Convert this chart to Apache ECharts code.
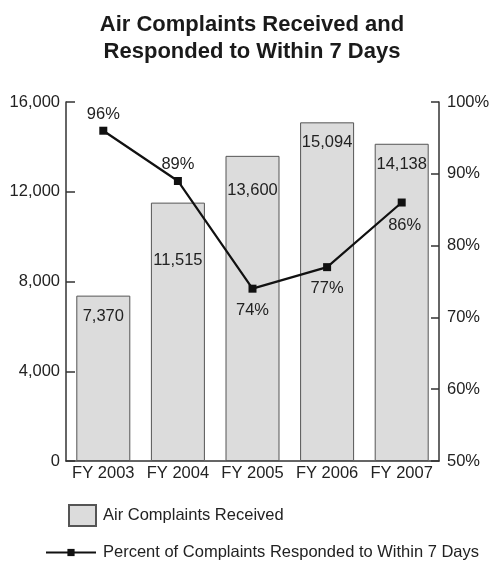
<!DOCTYPE html>
<html><head><meta charset="utf-8">
<script src="https://cdn.jsdelivr.net/npm/echarts@6/dist/echarts.min.js"></script>
<style>html,body{margin:0;padding:0;background:#fff}#c{width:489px;height:565px}</style>
</head><body><div id="c"></div>
<script>
const categories = ['FY 2003', 'FY 2004', 'FY 2005', 'FY 2006', 'FY 2007'];
const complaints = [7370, 11515, 13600, 15094, 14138];
const percentResponded = [96, 89, 74, 77, 86];
const leftTicks = [0, 4000, 8000, 12000, 16000];
const rightTicks = [50, 60, 70, 80, 90, 100];
const barLabelDist = [12, 49, 26, 12, 12];
const lineLabelPos = ['top', 'top', 'bottom', 'bottom', 'bottom'];
const lineLabelDist = [4, 4.5, 9, 9, 10];

const SANS = "'Liberation Sans', Arial, sans-serif";
const FS = 16.5;
const TXT = '#222';
const AX = '#333';

const chart = echarts.init(document.getElementById('c'));
chart.setOption({
  animation: false,
  title: {
    text: 'Air Complaints Received and\nResponded to Within 7 Days',
    left: 247, top: 6, textAlign: 'center',
    textStyle: { fontFamily: SANS, fontWeight: 'bold', fontSize: 22, lineHeight: 27, color: '#1a1a1a' }
  },
  legend: [
    { data: ['Air Complaints Received'], left: 63, top: 499, itemWidth: 27, itemHeight: 21, icon: 'rect',
      textStyle: { fontFamily: SANS, fontSize: FS, color: TXT, padding: [0, 0, 0, 2] } },
    { data: ['Percent of Complaints Responded to Within 7 Days'], left: 40, top: 539, itemWidth: 50, itemHeight: 9,
      textStyle: { fontFamily: SANS, fontSize: FS, color: TXT, padding: [0, 0, 0, 2] } }
  ],
  grid: { left: 66, right: 50, top: 102, bottom: 104, outerBoundsMode: 'none', containLabel: false },
  xAxis: {
    type: 'category', data: categories,
    axisLine: { lineStyle: { color: AX, width: 1.5 } },
    axisTick: { show: false },
    axisLabel: { fontFamily: SANS, fontSize: FS, color: TXT, margin: 4, interval: 0 }
  },
  yAxis: [
    { type: 'value', min: leftTicks[0], max: leftTicks[leftTicks.length - 1], interval: 4000,
      splitLine: { show: false },
      axisLine: { show: true, lineStyle: { color: AX, width: 1.5 } },
      axisTick: { show: true, inside: true, length: 9, lineStyle: { color: AX, width: 1.5 } },
      axisLabel: { fontFamily: SANS, fontSize: FS, color: TXT, margin: 6,
        formatter: v => v.toLocaleString('en-US') } },
    { type: 'value', min: rightTicks[0], max: rightTicks[rightTicks.length - 1], interval: 10,
      position: 'right', splitLine: { show: false },
      axisLine: { show: true, lineStyle: { color: AX, width: 1.5 } },
      axisTick: { show: true, inside: true, length: 8, lineStyle: { color: AX, width: 1.5 } },
      axisLabel: { fontFamily: SANS, fontSize: FS, color: TXT, margin: 8, formatter: '{value}%' } }
  ],
  series: [
    { name: 'Air Complaints Received', type: 'bar', barWidth: 54,
      itemStyle: { color: '#dcdcdc', borderColor: '#555', borderWidth: 1 },
      data: complaints.map((v, i) => ({ value: v, label: { distance: barLabelDist[i] } })),
      label: { show: true, position: 'insideTop', fontFamily: SANS, fontSize: FS, color: TXT,
        formatter: p => p.value.toLocaleString('en-US') } },
    { name: 'Percent of Complaints Responded to Within 7 Days', type: 'line', yAxisIndex: 1,
      symbol: 'rect', symbolSize: 8,
      lineStyle: { color: '#111', width: 2.2 }, itemStyle: { color: '#111' },
      data: percentResponded.map((v, i) => ({ value: v,
        label: { position: lineLabelPos[i], distance: lineLabelDist[i], offset: [i === 4 ? 3 : 0, 0] } })),
      label: { show: true, fontFamily: SANS, fontSize: FS, color: TXT, formatter: '{c}%' } }
  ]
});
</script></body></html>
